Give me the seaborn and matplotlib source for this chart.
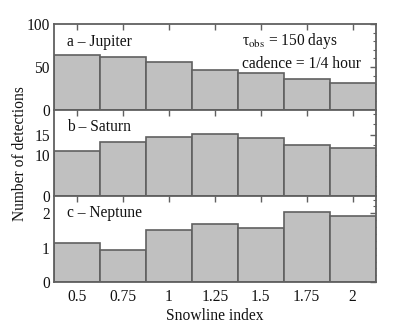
import matplotlib
matplotlib.use("Agg")
import matplotlib.pyplot as plt
import seaborn as sns
import pandas as pd
from matplotlib.ticker import MultipleLocator, FixedLocator

snowline = ["0.5", "0.75", "1", "1.25", "1.5", "1.75", "2"]
jupiter = [63.5, 62.0, 56.3, 46.0, 43.0, 36.1, 31.9]
saturn = [11.0, 13.2, 14.5, 15.2, 14.1, 12.4, 11.7]
neptune = [1.15, 0.94, 1.53, 1.68, 1.57, 2.04, 1.92]

panel_labels = ["a \u2013 Jupiter", "b \u2013 Saturn", "c \u2013 Neptune"]
ylims = [100, 21, 2.5]
major_ticks = [[0, 50, 100], [0, 10, 15], [0, 1, 2]]
minor_steps = [10, 2.5, 0.2]

sns.set_theme(style="white")
plt.rcParams["font.family"] = ["Liberation Serif", "DejaVu Serif"]
plt.rcParams["mathtext.fontset"] = "stix"

fig = plt.figure(figsize=(4.15, 3.24), dpi=100)
gs = fig.add_gridspec(3, 1, left=0.130, right=0.905, top=0.926, bottom=0.129, hspace=0)
axes = [fig.add_subplot(gs[i]) for i in range(3)]

edge = "#606060"
txt = "#111111"
fs = 11.2
for i, (ax, vals) in enumerate(zip(axes, [jupiter, saturn, neptune])):
    df = pd.DataFrame({"snowline": snowline, "n": vals})
    sns.barplot(data=df, x="snowline", y="n", ax=ax, color="#c0c0c0",
                saturation=1, width=1.0, edgecolor=edge, linewidth=1.2)
    ax.set_xlim(-0.5, len(snowline) - 0.5)
    ax.set_ylim(0, ylims[i])
    ax.yaxis.set_major_locator(FixedLocator(major_ticks[i]))
    ax.yaxis.set_minor_locator(MultipleLocator(minor_steps[i]))
    ax.set_axisbelow(True)
    ax.tick_params(axis="both", which="both", direction="in", top=True, right=True,
                   color="#606060", labelsize=fs, labelcolor=txt)
    ax.tick_params(axis="y", pad=3)
    ax.tick_params(axis="x", pad=5)
    ax.tick_params(which="major", length=4, width=1)
    ax.tick_params(which="minor", length=2, width=0.8)
    ax.tick_params(axis="x", which="minor", length=0)
    for s in ax.spines.values():
        s.set_color("#606060")
        s.set_linewidth(1.3)
    ax.set_xlabel("")
    ax.set_ylabel("")
    if i < 2:
        ax.tick_params(axis="x", labelbottom=False)
    ax.text(0.04, 0.795 if i == 0 else 0.80, panel_labels[i], transform=ax.transAxes,
            fontsize=fs, va="center", ha="left", color=txt)

axes[0].text(0.584, 0.80, "\u03c4" + r"$_{\rm obs}$ = 150 days", transform=axes[0].transAxes,
             fontsize=fs, va="center", ha="left", color=txt)
axes[0].text(0.584, 0.53, "cadence = 1/4 hour", transform=axes[0].transAxes,
             fontsize=fs, va="center", ha="left", color=txt)

axes[2].set_xlabel("Snowline index", fontsize=fs, labelpad=2, color=txt)
fig.text(0.047, 0.525, "Number of detections", rotation=90, fontsize=fs,
         va="center", ha="center", color=txt)

fig.savefig("out.png", dpi=100)
